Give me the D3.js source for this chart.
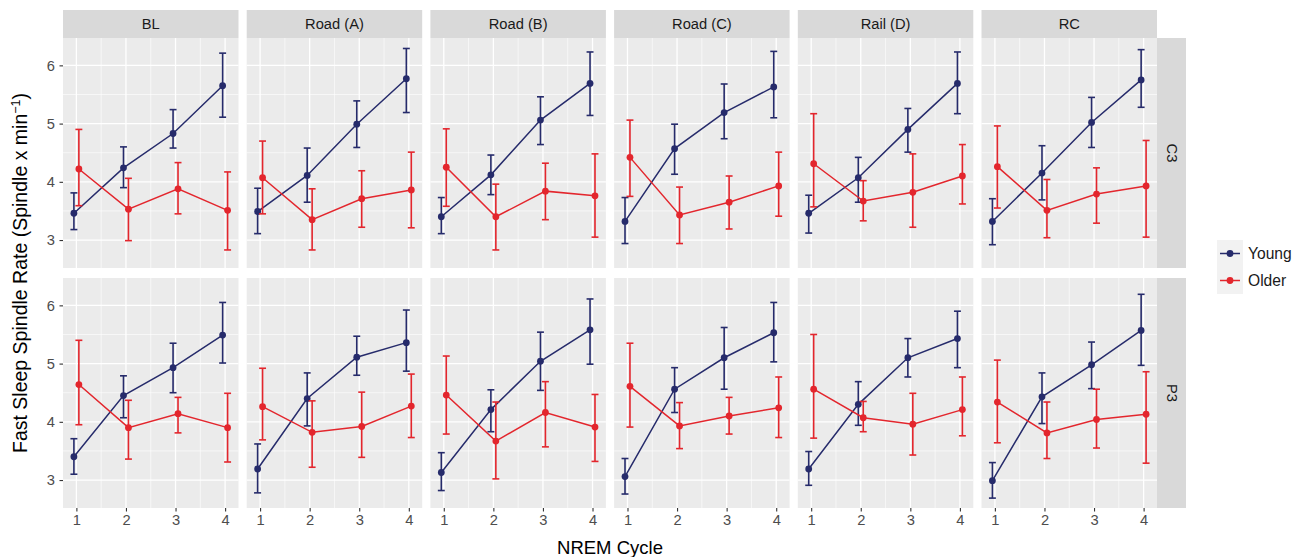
<!DOCTYPE html>
<html lang="en">

<head>
    <meta charset="UTF-8">
    <title>Fast Sleep Spindle Rate</title>
    <script src="https://d3js.org/d3.v7.min.js"></script>
    <style>
        body { margin: 0; background: #fff; }
        text { font-family: "Liberation Sans", Arial, sans-serif; }
    </style>
</head>

<body>
    <div id="container"></div>
    <script>
        var panels = ["BL", "Road (A)", "Road (B)", "Road (C)", "Rail (D)", "RC"];
        var rows = ["C3", "P3"];
        var cycles = [1, 2, 3, 4];
        var groups = ["Young", "Older"];
        var yTicks = [3, 4, 5, 6];

        // mean, lower and upper error bar per panel, cycles 1-4
        var youngC3Mean = [[3.46, 4.24, 4.83, 5.65], [3.49, 4.11, 4.99, 5.77], [3.40, 4.12, 5.06, 5.69], [3.32, 4.57, 5.19, 5.63], [3.46, 4.07, 4.90, 5.69], [3.32, 4.15, 5.02, 5.75]];
        var youngC3Lo = [[3.18, 3.90, 4.58, 5.11], [3.11, 3.65, 4.59, 5.19], [3.11, 3.78, 4.64, 5.14], [2.94, 4.13, 4.74, 5.10], [3.12, 3.65, 4.51, 5.17], [2.92, 3.69, 4.59, 5.28]];
        var youngC3Hi = [[3.81, 4.60, 5.24, 6.21], [3.89, 4.58, 5.39, 6.29], [3.73, 4.46, 5.46, 6.23], [3.73, 4.99, 5.68, 6.24], [3.77, 4.42, 5.26, 6.23], [3.71, 4.62, 5.45, 6.27]];
        var olderC3Mean = [[4.22, 3.53, 3.88, 3.51], [4.07, 3.35, 3.71, 3.86], [4.25, 3.40, 3.84, 3.76], [4.42, 3.43, 3.65, 3.93], [4.31, 3.67, 3.82, 4.10], [4.26, 3.51, 3.79, 3.93]];
        var olderC3Lo = [[3.59, 2.99, 3.45, 2.83], [3.45, 2.83, 3.22, 3.21], [3.58, 2.83, 3.35, 3.05], [3.75, 2.94, 3.19, 3.41], [3.57, 3.33, 3.22, 3.62], [3.55, 3.04, 3.29, 3.05]];
        var olderC3Hi = [[4.90, 4.06, 4.33, 4.17], [4.70, 3.88, 4.19, 4.51], [4.91, 3.96, 4.32, 4.48], [5.06, 3.91, 4.10, 4.51], [5.17, 4.02, 4.48, 4.64], [4.96, 4.04, 4.24, 4.71]];

        var youngP3Mean = [[3.40, 4.45, 4.93, 5.49], [3.19, 4.40, 5.11, 5.36], [3.13, 4.21, 5.04, 5.58], [3.06, 4.56, 5.10, 5.53], [3.19, 4.30, 5.10, 5.43], [2.99, 4.43, 4.98, 5.57]];
        var youngP3Lo = [[3.10, 4.07, 4.50, 5.01], [2.78, 3.93, 4.80, 4.87], [2.82, 3.83, 4.54, 4.99], [2.76, 4.16, 4.56, 5.03], [2.91, 3.94, 4.77, 4.93], [2.69, 3.97, 4.57, 4.97]];
        var youngP3Hi = [[3.71, 4.79, 5.35, 6.05], [3.62, 4.84, 5.47, 5.92], [3.47, 4.55, 5.54, 6.11], [3.37, 4.93, 5.62, 6.05], [3.49, 4.69, 5.43, 5.90], [3.30, 4.84, 5.37, 6.19]];
        var olderP3Mean = [[4.64, 3.90, 4.14, 3.90], [4.26, 3.82, 3.92, 4.27], [4.46, 3.67, 4.16, 3.91], [4.61, 3.93, 4.10, 4.24], [4.56, 4.07, 3.96, 4.21], [4.34, 3.81, 4.04, 4.13]];
        var olderP3Lo = [[3.95, 3.36, 3.81, 3.31], [3.69, 3.22, 3.39, 3.73], [3.79, 3.02, 3.57, 3.32], [3.91, 3.54, 3.79, 3.73], [3.72, 3.83, 3.43, 3.76], [3.64, 3.37, 3.55, 3.29]];
        var olderP3Hi = [[5.40, 4.37, 4.42, 4.49], [4.92, 4.36, 4.51, 4.82], [5.13, 4.34, 4.69, 4.47], [5.35, 4.33, 4.42, 4.77], [5.50, 4.35, 4.49, 4.77], [5.06, 4.34, 4.56, 4.86]];

        var colors = { Young: "#262b6b", Older: "#e3262d" };
        var dodge = { Young: -0.05, Older: 0.05 };

        var width = 1298, height = 557;
        var left = 63, panelW = 175.5, gapX = 8.2;
        var panelH = 230, rowTop = [38, 278];
        var stripTop = 10, stripW = 29;

        var series = {
            C3: {
                Young: [youngC3Mean, youngC3Lo, youngC3Hi],
                Older: [olderC3Mean, olderC3Lo, olderC3Hi]
            },
            P3: {
                Young: [youngP3Mean, youngP3Lo, youngP3Hi],
                Older: [olderP3Mean, olderP3Lo, olderP3Hi]
            }
        };

        var svg = d3.select("#container")
            .append("svg")
            .attr("width", width)
            .attr("height", height);

        var x = d3.scaleLinear().domain([0.73, 4.27]).range([0, panelW]);
        var y = d3.scaleLinear().domain([2.52, 6.47]).range([panelH, 0]);

        // strips on top
        panels.forEach(function (p, i) {
            var px = left + i * (panelW + gapX);
            svg.append("rect")
                .attr("x", px).attr("y", stripTop)
                .attr("width", panelW).attr("height", rowTop[0] - stripTop)
                .attr("fill", "#d9d9d9");
            svg.append("text")
                .attr("x", px + panelW / 2).attr("y", (stripTop + rowTop[0]) / 2 + 5)
                .attr("text-anchor", "middle")
                .attr("font-size", 14.7)
                .attr("fill", "#1a1a1a")
                .text(p);
        });

        var line = d3.line()
            .x(function (d) { return x(d.c); })
            .y(function (d) { return y(d.m); });

        rows.forEach(function (r, ri) {
            var top = rowTop[ri];
            var rightX = left + 6 * panelW + 5 * gapX;

            // strip on the right
            svg.append("rect")
                .attr("x", rightX).attr("y", top)
                .attr("width", stripW).attr("height", panelH)
                .attr("fill", "#d9d9d9");
            svg.append("text")
                .attr("transform", "translate(" + (rightX + stripW / 2 - 5) + "," + (top + panelH / 2) + ") rotate(90)")
                .attr("text-anchor", "middle")
                .attr("font-size", 14.7)
                .attr("fill", "#1a1a1a")
                .text(r);

            panels.forEach(function (p, pi) {
                var g = svg.append("g")
                    .attr("transform", "translate(" + (left + pi * (panelW + gapX)) + "," + top + ")");

                g.append("rect")
                    .attr("width", panelW).attr("height", panelH)
                    .attr("fill", "#ebebeb");

                // minor grid
                g.selectAll(".minorY").data([3.5, 4.5, 5.5]).enter().append("line")
                    .attr("x1", 0).attr("x2", panelW)
                    .attr("y1", (d) => y(d)).attr("y2", (d) => y(d))
                    .attr("stroke", "#fff").attr("stroke-width", 0.6);
                g.selectAll(".minorX").data([1.5, 2.5, 3.5]).enter().append("line")
                    .attr("y1", 0).attr("y2", panelH)
                    .attr("x1", (d) => x(d)).attr("x2", (d) => x(d))
                    .attr("stroke", "#fff").attr("stroke-width", 0.6);
                // major grid
                g.selectAll(".majorY").data(yTicks).enter().append("line")
                    .attr("x1", 0).attr("x2", panelW)
                    .attr("y1", (d) => y(d)).attr("y2", (d) => y(d))
                    .attr("stroke", "#fff").attr("stroke-width", 1.3);
                g.selectAll(".majorX").data(cycles).enter().append("line")
                    .attr("y1", 0).attr("y2", panelH)
                    .attr("x1", (d) => x(d)).attr("x2", (d) => x(d))
                    .attr("stroke", "#fff").attr("stroke-width", 1.3);

                groups.forEach(function (grp) {
                    var s = series[r][grp];
                    var pts = cycles.map(function (c, ci) {
                        return { c: c + dodge[grp], m: s[0][pi][ci], lo: s[1][pi][ci], hi: s[2][pi][ci] };
                    });
                    var col = colors[grp];

                    var eb = g.append("g").attr("stroke", col).attr("stroke-width", 1.6);
                    eb.selectAll(".v").data(pts).enter().append("line")
                        .attr("x1", (d) => x(d.c)).attr("x2", (d) => x(d.c))
                        .attr("y1", (d) => y(d.lo)).attr("y2", (d) => y(d.hi));
                    eb.selectAll(".t").data(pts).enter().append("line")
                        .attr("x1", (d) => x(d.c - 0.07)).attr("x2", (d) => x(d.c + 0.07))
                        .attr("y1", (d) => y(d.hi)).attr("y2", (d) => y(d.hi));
                    eb.selectAll(".b").data(pts).enter().append("line")
                        .attr("x1", (d) => x(d.c - 0.07)).attr("x2", (d) => x(d.c + 0.07))
                        .attr("y1", (d) => y(d.lo)).attr("y2", (d) => y(d.lo));

                    g.append("path")
                        .datum(pts)
                        .attr("d", line)
                        .attr("fill", "none")
                        .attr("stroke", col)
                        .attr("stroke-width", 1.5);

                    g.selectAll(".pt" + grp).data(pts).enter().append("circle")
                        .attr("cx", (d) => x(d.c))
                        .attr("cy", (d) => y(d.m))
                        .attr("r", 3.4)
                        .attr("fill", col);
                });

                // y axis on first column
                if (pi == 0) {
                    var ya = g.append("g")
                        .call(d3.axisLeft(y).tickValues(yTicks).tickSize(3.5).tickPadding(4.5).tickFormat(d3.format("d")));
                    ya.select(".domain").remove();
                    ya.selectAll("line").attr("stroke", "#333").attr("stroke-width", 1.1);
                    ya.selectAll("text").attr("font-size", 14.7).attr("fill", "#4d4d4d")
                        .attr("font-family", "Liberation Sans, Arial, sans-serif");
                }
                // x axis on bottom row
                if (ri == 1) {
                    var xa = g.append("g")
                        .attr("transform", "translate(0," + panelH + ")")
                        .call(d3.axisBottom(x).tickValues(cycles).tickSize(3.5).tickPadding(3).tickFormat(d3.format("d")));
                    xa.select(".domain").remove();
                    xa.selectAll("line").attr("stroke", "#333").attr("stroke-width", 1.1);
                    xa.selectAll("text").attr("font-size", 14.7).attr("fill", "#4d4d4d")
                        .attr("font-family", "Liberation Sans, Arial, sans-serif");
                }
            });
        });

        // axis titles
        svg.append("text")
            .attr("x", left + (6 * panelW + 5 * gapX) / 2)
            .attr("y", 554)
            .attr("text-anchor", "middle")
            .attr("font-size", 18.5)
            .attr("fill", "#000")
            .text("NREM Cycle");

        var yt = svg.append("text")
            .attr("transform", "translate(27," + (rowTop[0] + (rowTop[1] + panelH - rowTop[0]) / 2) + ") rotate(-90)")
            .attr("text-anchor", "middle")
            .attr("font-size", 19.5)
            .attr("fill", "#000");
        yt.append("tspan").text("Fast Sleep Spindle Rate (Spindle x min");
        yt.append("tspan").attr("dy", -7).attr("font-size", 12.5).text("\u22121");
        yt.append("tspan").attr("dy", 7).text(")");

        // legend
        var lg = svg.append("g").attr("transform", "translate(1217,240)");
        groups.forEach(function (grp, i) {
            var ly = i * 27;
            lg.append("rect")
                .attr("x", 0).attr("y", ly)
                .attr("width", 26).attr("height", 27)
                .attr("fill", "#f2f2f2");
            lg.append("line")
                .attr("x1", 3).attr("x2", 23)
                .attr("y1", ly + 13.5).attr("y2", ly + 13.5)
                .attr("stroke", colors[grp]).attr("stroke-width", 1.5);
            lg.append("circle")
                .attr("cx", 13).attr("cy", ly + 13.5).attr("r", 3.4)
                .attr("fill", colors[grp]);
            lg.append("text")
                .attr("x", 31).attr("y", ly + 19)
                .attr("font-size", 15.6)
                .attr("fill", "#1a1a1a")
                .text(grp);
        });
    </script>
</body>

</html>
